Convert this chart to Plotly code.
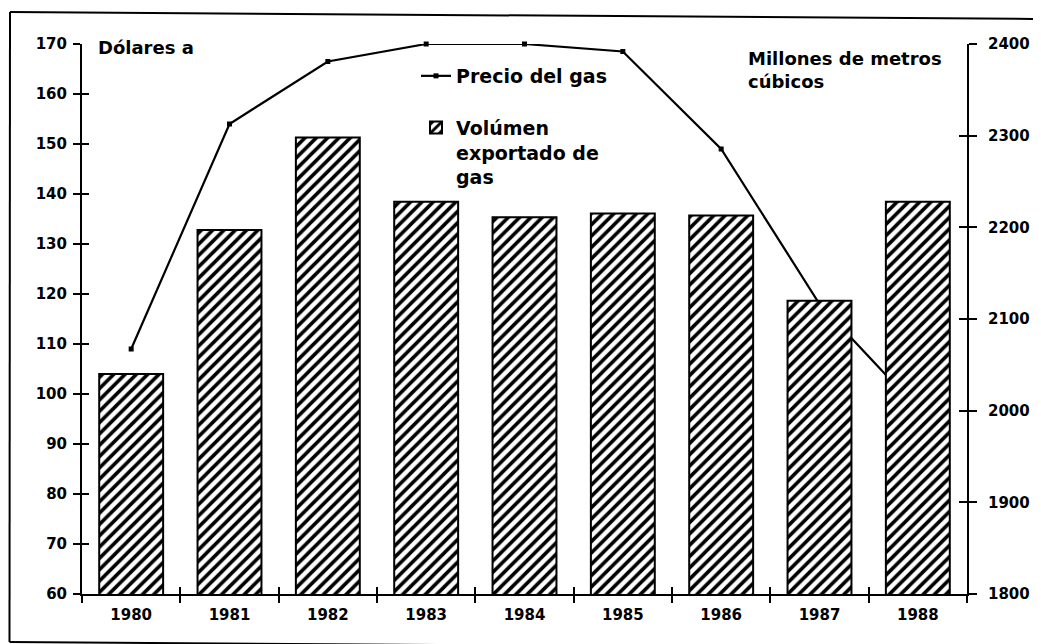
import plotly.graph_objects as go

years = ["1980", "1981", "1982", "1983", "1984", "1985", "1986", "1987", "1988"]
precio = [109, 154, 166.5, 170, 170, 168.5, 149, 118, 97]
volumen = [2040, 2197, 2298, 2228, 2211, 2215, 2213, 2120, 2228]
left_ticks = [60, 70, 80, 90, 100, 110, 120, 130, 140, 150, 160, 170]
right_ticks = [1800, 1900, 2000, 2100, 2200, 2300, 2400]

W, H = 1041, 644
OFF = 8  # page body margin offset
# target page-pixel positions of the plot area
PL, PR, PT, PB = 82, 967, 44, 594
L, T = PL - OFF, PT - OFF
R = W - (PR - OFF)
B = H - (PB - OFF)
PW, PH = PR - PL, PB - PT

def px(x):
    return (x - PL) / PW

def py(y):
    return (PB - y) / PH

FONT = "DejaVu Sans"
tickfont = dict(family=FONT, size=15, color="black", weight="bold")

fig = go.Figure()

fig.add_trace(go.Scatter(
    x=years, y=precio, name="Precio del gas", mode="lines+markers",
    line=dict(color="black", width=2.2),
    marker=dict(symbol="square", size=5, color="black"),
    xaxis="x", yaxis="y", legendgroup="a", cliponaxis=False,
))
fig.add_trace(go.Bar(
    x=years, y=volumen, name="Volúmen<br>exportado de<br>gas",
    width=0.65,
    marker=dict(color="white", line=dict(color="black", width=2),
                pattern=dict(shape="/", fgcolor="black", bgcolor="white",
                             fgopacity=1, size=8, solidity=0.45)),
    xaxis="x", yaxis="y2", legendgroup="b",
))
# invisible helpers so the crossing (inside) tick marks are drawn
fig.add_trace(go.Scatter(x=years, y=[None] * len(years), xaxis="x2", yaxis="y3",
                         showlegend=False, hoverinfo="skip"))
fig.add_trace(go.Scatter(x=years, y=[None] * len(years), xaxis="x2", yaxis="y4",
                         showlegend=False, hoverinfo="skip"))

common_x = dict(type="category", categoryorder="array", categoryarray=years,
                range=[-0.5, len(years) - 0.5], tickson="boundaries",
                showgrid=False, zeroline=False, ticklen=7, tickwidth=2,
                tickcolor="black")

fig.update_layout(
    width=W, height=H,
    margin=dict(l=L, r=R, t=T, b=B),
    paper_bgcolor="white", plot_bgcolor="white",
    font=dict(family=FONT, color="black"),
    barmode="overlay",
    xaxis=dict(**common_x, ticks="outside", showline=True, linecolor="black",
               linewidth=2, tickfont=tickfont, anchor="y", ticklabelstandoff=6),
    xaxis2=dict(**common_x, ticks="inside", showline=False, showticklabels=False,
                overlaying="x", anchor="y", side="bottom"),
    yaxis=dict(range=[60, 170], tickvals=left_ticks, ticks="outside", ticklen=7,
               tickwidth=2, tickcolor="black", showline=True, linecolor="black",
               linewidth=2, showgrid=False, zeroline=False, tickfont=tickfont,
               ticklabelstandoff=3),
    yaxis2=dict(range=[1800, 2400], tickvals=right_ticks, ticks="outside", ticklen=8,
                tickwidth=2, tickcolor="black", showline=True, linecolor="black",
                linewidth=2, showgrid=False, zeroline=False, tickfont=tickfont,
                side="right", overlaying="y", anchor="x", ticklabelstandoff=8),
    yaxis3=dict(range=[60, 170], tickvals=left_ticks, ticks="inside", ticklen=7,
                tickwidth=2, tickcolor="black", showline=False, showgrid=False,
                zeroline=False, showticklabels=False, overlaying="y", anchor="x2"),
    yaxis4=dict(range=[1800, 2400], tickvals=right_ticks, ticks="inside", ticklen=8,
                tickwidth=2, tickcolor="black", showline=False, showgrid=False,
                zeroline=False, showticklabels=False, overlaying="y", anchor="x2",
                side="right"),
    showlegend=True,
    legend=dict(x=px(416), y=py(57), xanchor="left", yanchor="top",
                bgcolor="rgba(0,0,0,0)", borderwidth=0,
                font=dict(family=FONT, size=19, color="black", weight="bold"),
                tracegroupgap=24, itemwidth=30, valign="top",
                traceorder="grouped"),
    annotations=[
        dict(text="Dólares a", xref="paper", yref="paper", x=px(96), y=py(47),
             xanchor="left", yanchor="middle", showarrow=False,
             font=dict(family=FONT, size=18, color="black", weight="bold")),
        dict(text="Millones de metros<br>cúbicos", xref="paper", yref="paper",
             x=px(746), y=py(70), xanchor="left", yanchor="middle", align="left",
             showarrow=False,
             font=dict(family=FONT, size=18, color="black", weight="bold")),
    ],
    shapes=[
        dict(type="line", xref="paper", yref="paper", x0=px(10), y0=py(12),
             x1=px(1045), y1=py(19), line=dict(color="black", width=2)),
        dict(type="line", xref="paper", yref="paper", x0=px(10), y0=py(12),
             x1=px(9.5), y1=py(642), line=dict(color="black", width=2)),
        dict(type="line", xref="paper", yref="paper", x0=px(9.5), y0=py(642),
             x1=px(1045), y1=py(649), line=dict(color="black", width=2)),
    ],
)

fig.write_html("out.html")
